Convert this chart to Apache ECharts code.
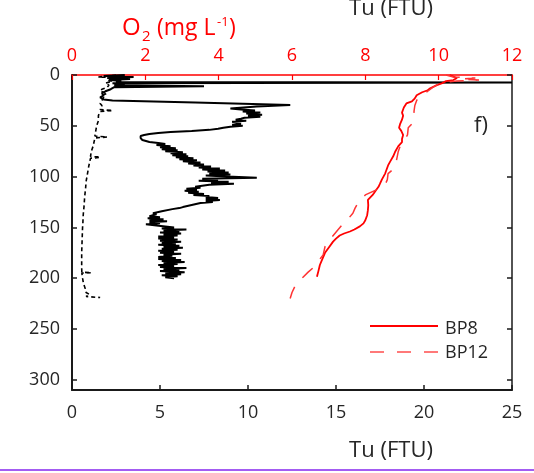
<!DOCTYPE html>
<html><head><meta charset="utf-8">
<script src="https://cdn.jsdelivr.net/npm/echarts@6/dist/echarts.min.js"></script>
<style>html,body{margin:0;padding:0;background:#fff}#c{width:534px;height:473px}</style>
</head><body><div id="c"></div>
<script>
// depth (m), value pairs
var tuBP8 = [[0,3.0],[1,1.8],[2,3.5],[3,2.0],[4,3.3],[5,2.2],[6,2.8],[7,2.5],[7.5,25],[8,2.3],[9,3.0],[10,2.4],[11,7.5],[12,2.4],[14,2.2],[16,1.9],[18,1.7],[20,1.8],[22,1.6],[24,1.8],[25,2.3],[27,7.0],[29.5,12.4],[31,10.5],[33,9.0],[34,9.6],[35,10.4],[36,9.7],[37,10.7],[38,9.9],[39,10.8],[40,10.0],[41,10.7],[42,9.8],[43,9.6],[44,9.3],[45,9.9],[46,9.1],[47,9.0],[48,9.6],[49,9.1],[50,9.7],[51,9.0],[52,8.6],[53,8.3],[54,7.8],[55,6.8],[56,5.6],[57,4.9],[58,4.4],[59,4.1],[60,3.9],[61,3.8],[62,3.9],[63,3.8],[64,4.0],[65,4.1],[66,4.4],[67,4.9],[68,5.3],[69,4.8],[70,5.6],[71,5.0],[72,5.9],[73,5.1],[74,6.0],[75,5.3],[76,6.3],[77,5.6],[78,6.5],[79,5.7],[80,6.6],[81,5.9],[82,6.9],[83,6.1],[84,7.1],[85,6.3],[86,7.3],[87,6.6],[88,7.5],[89,6.9],[90,7.9],[91,7.2],[92,8.4],[93,7.4],[94,8.7],[95,7.7],[96,8.9],[97,7.8],[98,9.0],[99,7.6],[100,8.8],[101,10.5],[102,7.4],[103,8.3],[104,7.2],[105,8.9],[106,7.9],[107,9.2],[108,7.8],[109,7.8],[110,7.0],[111,7.3],[112,6.5],[113,7.1],[114,6.4],[115,7.2],[116,6.6],[117,7.5],[118,6.9],[119,7.8],[120,7.6],[121,8.3],[122,7.6],[123,8.4],[124,7.6],[125,8.0],[126,7.3],[127,7.2],[128,6.8],[129,6.7],[130,6.3],[131,6.1],[132,5.7],[133,5.6],[134,5.1],[135,5.1],[136,4.6],[137,4.8],[138,4.7],[139,4.4],[140,5.0],[141,4.3],[142,5.2],[143,4.4],[144,5.4],[145,4.4],[146,5.0],[147,4.2],[148,4.8],[149,4.7],[150,5.8],[151,5.1],[152,6.5],[153,5.2],[154,6.1],[155,5.0],[156,6.2],[157,5.2],[158,6.0],[159,4.9],[160,5.8],[161,4.9],[162,6.0],[163,5.0],[164,6.2],[165,5.1],[166,5.9],[167,4.9],[168,6.1],[169,5.2],[170,6.3],[171,5.1],[172,6.0],[173,4.9],[174,5.8],[175,5.0],[176,6.2],[177,5.2],[178,5.7],[179,4.9],[180,5.9],[181,4.9],[182,6.2],[183,5.1],[184,6.4],[185,5.2],[186,6.0],[187,4.9],[188,5.8],[189,5.0],[190,6.5],[191,5.2],[192,6.1],[193,5.0],[194,6.4],[195,5.3],[196,6.2],[197,5.1],[198,6.0],[199,5.3],[200,5.8]];

var tuBP12 = [[0,2.5],[2,1.5],[3,3.2],[5,2.0],[6,2.3],[8,1.9],[10,2.1],[12,2.0],[14,1.7],[16,1.6],[18,2.0],[20,1.7],[22,1.8],[25,1.7],[28,1.6],[30,1.7],[34,1.6],[35,2.3],[36,1.6],[40,1.5],[45,1.5],[50,1.4],[55,1.35],[60,1.3],[61,2.0],[62,1.3],[66,1.25],[70,1.2],[75,1.1],[80,1.05],[81,1.6],[82,1.05],[86,1.0],[90,0.95],[95,0.9],[100,0.85],[105,0.8],[110,0.78],[115,0.75],[120,0.72],[125,0.7],[130,0.68],[135,0.65],[140,0.63],[145,0.62],[150,0.6],[155,0.59],[160,0.58],[165,0.57],[170,0.56],[175,0.55],[180,0.55],[185,0.55],[190,0.55],[194,0.56],[194.6,1.1],[195,0.56],[200,0.6],[205,0.65],[210,0.75],[214,0.8],[216,1.0],[218,0.8],[219,1.6]];

var o2BP8 = [[0,10.3],[1.6,10.3],[3,10.5],[5,10.4],[6,10.2],[8,10.1],[10,9.95],[13,9.77],[15,9.7],[17,9.55],[20,9.4],[23,9.35],[26,9.27],[28,9.12],[29.5,9.08],[32,9.05],[34,9.03],[37,9.0],[40,9.03],[44,9.0],[48,8.95],[52,8.92],[55,8.98],[59,9.03],[63,9.0],[66,9.0],[70,8.9],[75,8.82],[80,8.76],[85,8.68],[89,8.62],[93,8.58],[97,8.54],[103,8.45],[107,8.4],[110,8.36],[113,8.3],[118,8.2],[123,8.07],[128,8.08],[133,8.07],[138,8.05],[143,8.0],[146,7.95],[149,7.85],[152,7.7],[154,7.58],[156,7.42],[158,7.3],[161,7.2],[164,7.12],[170,7.0],[175,6.9],[181,6.83],[187,6.76],[193,6.72],[198.5,6.68]];

var o2BP12 = [[0,10.2],[2,10.4],[3,11.0],[4,10.6],[5,11.1],[6,10.5],[7,10.2],[9,10.0],[12,9.85],[16,9.7],[20,9.5],[25,9.4],[30,9.35],[35,9.33],[40,9.32],[47,9.3],[52,9.17],[59,9.15],[65,9.05],[70,8.95],[75,8.9],[84,8.85],[90,8.82],[93,8.75],[97,8.62],[103,8.6],[108,8.54],[113,8.3],[118,8.0],[120,7.95],[126,7.8],[131,7.72],[136,7.66],[143,7.5],[147,7.38],[152,7.26],[159,7.1],[164,7.0],[169,6.9],[177,6.85],[183,6.72],[189,6.6],[194,6.44],[199,6.3],[204,6.16],[208,6.08],[214,6.0],[220,5.95]];

var depthTicks = {min:0, max:310, interval:50};
var tuTicks = {min:0, max:25, interval:5};
var o2Ticks = {min:0, max:12, interval:2};
var legendNames = ['BP8','BP12'];

function toXY(arr){ return arr.map(function(p){ return [p[1], p[0]]; }); }

var FONT = '"Open Sans", "Noto Sans", sans-serif';
var TXT = '#262626';
var RED = '#ff0000';
var chart = echarts.init(document.getElementById('c'), null, {renderer:'canvas'});
chart.setOption({
  animation:false,
  backgroundColor:'#fff',
  grid:{left:72, right:22, top:75, bottom:83, containLabel:false},
  xAxis:[
    {type:'value', position:'bottom', min:tuTicks.min, max:tuTicks.max, interval:tuTicks.interval,
     axisLine:{show:true, onZero:false, lineStyle:{color:'#1a1a1a', width:2}},
     axisTick:{show:true, inside:true, length:5, lineStyle:{color:'#1a1a1a', width:1.5}},
     axisLabel:{fontSize:18, color:TXT, fontFamily:FONT, margin:14},
     splitLine:{show:false}},
    {type:'value', position:'top', min:o2Ticks.min, max:o2Ticks.max, interval:o2Ticks.interval,
     axisLine:{show:true, onZero:false, lineStyle:{color:RED, width:1.5}},
     axisTick:{show:true, inside:true, length:5, lineStyle:{color:RED, width:1.2}},
     axisLabel:{fontSize:18, color:RED, fontFamily:FONT, margin:10},
     splitLine:{show:false}}
  ],
  yAxis:[
    {type:'value', inverse:true, position:'left', min:depthTicks.min, max:depthTicks.max, interval:depthTicks.interval,
     axisLine:{show:true, onZero:false, lineStyle:{color:'#1a1a1a', width:2}},
     axisTick:{show:true, inside:true, length:5, lineStyle:{color:'#1a1a1a', width:1.5}},
     axisLabel:{fontSize:18, color:TXT, fontFamily:FONT, margin:12},
     splitLine:{show:false}},
    {type:'value', inverse:true, position:'right', min:depthTicks.min, max:depthTicks.max, interval:depthTicks.interval,
     axisLine:{show:true, onZero:false, lineStyle:{color:'#1a1a1a', width:1.5}},
     axisTick:{show:true, inside:true, length:5, lineStyle:{color:'#1a1a1a', width:1.5}},
     axisLabel:{show:false}, splitLine:{show:false}}
  ],
  series:[
    {name:'BP8 Tu', type:'line', xAxisIndex:0, yAxisIndex:0, data:toXY(tuBP8), showSymbol:false, symbol:'none',
     lineStyle:{color:'#000', width:2}, z:3},
    {name:'BP12 Tu', type:'line', xAxisIndex:0, yAxisIndex:0, data:toXY(tuBP12), showSymbol:false, symbol:'none',
     lineStyle:{color:'#000', width:1.6, type:[4,3]}, z:3},
    {name:legendNames[0], type:'line', xAxisIndex:1, yAxisIndex:0, data:toXY(o2BP8), showSymbol:false, symbol:'none',
     lineStyle:{color:RED, width:1.8}, z:4},
    {name:legendNames[1], type:'line', xAxisIndex:1, yAxisIndex:0, data:toXY(o2BP12), showSymbol:false, symbol:'none',
     lineStyle:{color:'#ff3333', width:1.5, type:[14,12]}, z:4}
  ],
  graphic:[
    {type:'text', x:122, y:28, style:{text:'O', fontSize:24, fontFamily:FONT, fill:RED, verticalAlign:'middle'}},
    {type:'text', x:142, y:37, style:{text:'2', fontSize:15, fontFamily:FONT, fill:RED, verticalAlign:'middle'}},
    {type:'text', x:157, y:28, style:{text:'(mg L', fontSize:23, fontFamily:FONT, fill:RED, verticalAlign:'middle'}},
    {type:'text', x:217, y:22, style:{text:'-1', fontSize:13, fontFamily:FONT, fill:RED, verticalAlign:'middle'}},
    {type:'text', x:229, y:28, style:{text:')', fontSize:23, fontFamily:FONT, fill:RED, verticalAlign:'middle'}},
    {type:'text', x:391, y:9, style:{text:'Tu (FTU)', fontSize:22, fontFamily:FONT, fill:TXT, align:'center', verticalAlign:'middle'}},
    {type:'text', x:391, y:451, style:{text:'Tu (FTU)', fontSize:22, fontFamily:FONT, fill:TXT, align:'center', verticalAlign:'middle'}},
    {type:'text', x:481, y:126, style:{text:'f)', fontSize:22, fontFamily:FONT, fill:TXT, align:'center', verticalAlign:'middle'}},
    {type:'line', shape:{x1:370, y1:326, x2:438, y2:326}, style:{stroke:RED, lineWidth:2}},
    {type:'line', shape:{x1:370, y1:352, x2:438, y2:352}, style:{stroke:'#ff4d4d', lineWidth:1.6, lineDash:[14,13]}},
    {type:'text', x:445, y:329, style:{text:legendNames[0], fontSize:18, fontFamily:FONT, fill:TXT, verticalAlign:'middle'}},
    {type:'text', x:445, y:353, style:{text:legendNames[1], fontSize:18, fontFamily:FONT, fill:TXT, verticalAlign:'middle'}},
    {type:'rect', shape:{x:0, y:469, width:534, height:2}, style:{fill:'#a35cf2'}}
  ]
});
</script></body></html>
